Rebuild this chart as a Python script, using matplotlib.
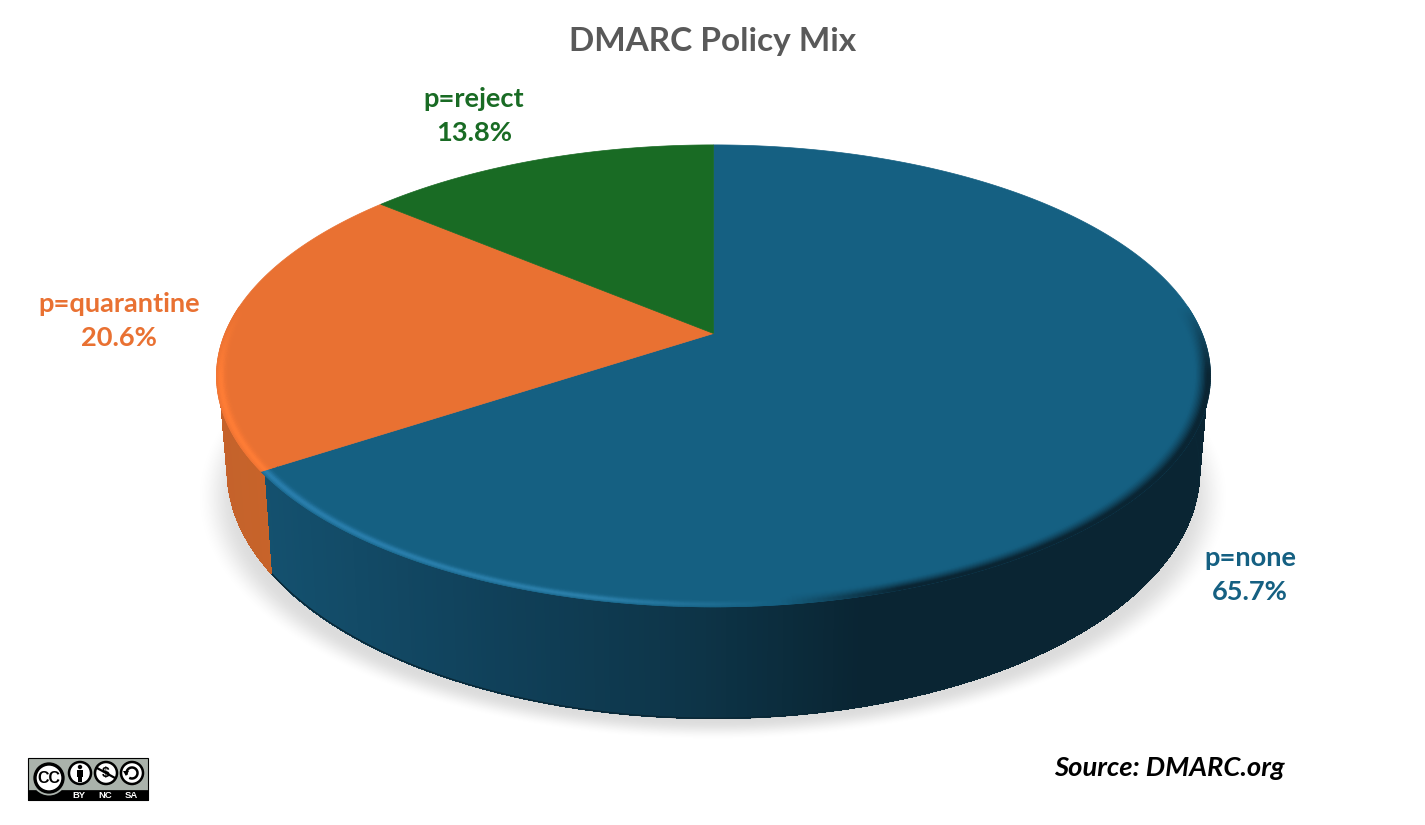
import numpy as np
import matplotlib
matplotlib.use("Agg")
from matplotlib import pyplot as plt
from matplotlib.collections import PolyCollection
from matplotlib.patches import Circle, Rectangle, Arc, Polygon

# data
labels = ["p=none", "p=quarantine", "p=reject"]
values = [65.7, 20.6, 13.8]
colors = ["#156082", "#E97132", "#196B24"]
title = "DMARC Policy Mix"
source = "Source: DMARC.org"
badge_labels = ["BY", "NC", "SA"]

plt.rcParams["font.family"] = ["Lato", "DejaVu Sans"]

W, H = 1425, 825
cx, cy = 713.5, 333.5      # apex of the pie on screen
A, B, p = 223.2, 488.6, 0.1835   # perspective of the disk
depth, s = 91, 0.978   # wall height and x scale of the bottom face

fig = plt.figure(figsize=(W / 100, H / 100), dpi=100)
ax = fig.add_axes([0, 0, 1, 1])


def top_xy(t, r=1.0):
    # t is the fraction of the pie, clockwise from 12 o'clock
    X = r * np.sin(2 * np.pi * t)
    Y = r * np.cos(2 * np.pi * t)
    d = 1 + p * Y
    return cx + B * X / d, cy - A * Y / d


def bottom_xy(t):
    x, y = top_xy(t)
    d = 1 + p * np.cos(2 * np.pi * t)
    return cx + s * (x - cx), y + depth / d


def mix(c1, c2, a):
    c1 = np.array(matplotlib.colors.to_rgb(c1))
    c2 = np.array(matplotlib.colors.to_rgb(c2))
    return c1 * (1 - a) + c2 * a


def ramp(x, pos, cols):
    rgb = [matplotlib.colors.to_rgb(c) for c in cols]
    return [np.interp(x, pos, [c[k] for c in rgb]) for k in range(3)]


def side_color(i, x):
    if i == 0:
        return ramp(x, [260, 500, 700, 860, 1220],
                    ["#14516f", "#104059", "#0d3447", "#0a2533", "#0a2533"])
    return ramp(x, [210, 280], ["#c4622b", "#c8642a"])


def rim_color(i, x):
    if i == 0:
        return ramp(x, [260, 600, 700, 780, 800, 900, 1220],
                    ["#2a7fae", "#2c80ab", "#206f95", "#156082", "#135674", "#0a2533", "#0a2533"])
    return ramp(x, [210, 280], ["#ff7d36", "#ff7d36"])


# soft shadow under the pie
gx, gy = np.meshgrid(np.arange(W) + 0.5, np.arange(H) + 0.5)
e = np.sqrt(((gx - 713) / 516) ** 2 + ((gy - 497) / 243) ** 2)
sh = np.clip((1.0 - e) / 0.08, 0, 1)
sh = sh * sh * (3 - 2 * sh)
img = np.ones((H, W, 4))
img[..., :3] = 0.55
img[..., 3] = 0.3 * sh
ax.imshow(img, extent=(0, W, H, 0), aspect="auto", zorder=1)

fractions = np.array(values) / np.sum(values)
edges = np.concatenate([[0], np.cumsum(fractions)])

# outer wall, cut in strips so the shade can change along it; back part is hidden
for i in range(len(values)):
    ts = np.linspace(edges[i], edges[i + 1], int(fractions[i] * 720) + 2)
    ts = ts[np.cos(2 * np.pi * ts) < 0.25]
    if len(ts) < 2:
        continue
    quads, cols = [], []
    for a, b in zip(ts[:-1], ts[1:]):
        x1, y1 = top_xy(a, 0.995)
        x2, y2 = top_xy(b, 0.995)
        x3, y3 = bottom_xy(b)
        x4, y4 = bottom_xy(a)
        quads.append([(x1, y1), (x2, y2), (x3, y3), (x4, y4)])
        cols.append(side_color(i, (x1 + x2) / 2))
    ax.add_collection(PolyCollection(quads, facecolors=cols, edgecolors=cols,
                                     linewidths=0.6, antialiased=False, zorder=2))
    # clean lower edge of the wall
    bx, by = bottom_xy(ts)
    ax.plot(bx, by, color=mix(side_color(i, 700), "black", 0.25) if i == 0 else side_color(i, 240),
            lw=1.0, zorder=2)

# top faces
for i in range(len(values)):
    ts = np.linspace(edges[i], edges[i + 1], 400)
    x, y = top_xy(ts)
    ax.fill(np.r_[cx, x], np.r_[cy, y], color=colors[i], lw=0.5, zorder=3)

# bevel along the front rim
radii = np.linspace(1.0, 0.968, 13)
for i in range(len(values)):
    ts = np.linspace(edges[i], edges[i + 1], int(fractions[i] * 720) + 2)
    for j in range(len(radii) - 1):
        r1, r2 = radii[j], radii[j + 1]
        u = (j + 0.5) / (len(radii) - 1)
        quads, cols = [], []
        for a, b in zip(ts[:-1], ts[1:]):
            m = (a + b) / 2
            Y = np.cos(2 * np.pi * m)
            k = np.clip((0.12 - Y) / 0.3, 0, 1)
            if k == 0:
                continue
            x1, y1 = top_xy(a, r1)
            x2, y2 = top_xy(b, r1)
            x3, y3 = top_xy(b, r2)
            x4, y4 = top_xy(a, r2)
            xm = (x1 + x2) / 2
            # light rims peak a little inside the edge, dark rims at the edge
            rc = rim_color(i, xm)
            if xm > 790 and i == 0:
                w = np.clip(1.35 * (1 - u), 0, 1) ** 1.4
            else:
                w = np.exp(-((u - 0.28) / 0.26) ** 2)
            cols.append(mix(colors[i], rc, k * w))
            quads.append([(x1, y1), (x2, y2), (x3, y3), (x4, y4)])
        if quads:
            ax.add_collection(PolyCollection(quads, facecolors=cols, edgecolors=cols,
                                             linewidths=0.5, zorder=4))

# texts
ax.text(713, 41, title, ha="center", va="center", fontsize=24, fontweight="bold",
        color="#595959", zorder=6)
label_pos = [(1250, 575), (119, 321), (474, 116)]
for i in range(len(values)):
    ax.text(label_pos[i][0], label_pos[i][1], "%s\n%.1f%%" % (labels[i], values[i]),
            ha="center", va="center", fontsize=19.6, fontweight="bold", color=colors[i],
            linespacing=1.5, zorder=6)
ax.text(1054, 768, source, ha="left", va="center", fontsize=19.7, fontweight="bold",
        style="italic", color="black", zorder=6)

# CC BY-NC-SA badge
ax.add_patch(Rectangle((28, 758), 120, 42, fc="#aab2ab", ec="black", lw=0.8, zorder=5))
ax.add_patch(Rectangle((28, 790), 120, 10, fc="black", ec="black", lw=0.5, zorder=5))
ax.add_patch(Circle((49, 778), 17.5, fc="#aab2ab", ec="none", zorder=5))
ax.add_patch(Circle((49, 778), 14, fc="white", ec="black", lw=2.4, zorder=6))
ax.text(49, 778.5, "CC", ha="center", va="center", fontsize=11.5, fontweight="bold",
        family="Liberation Sans", color="black", zorder=7)
icon_x = [80, 106, 132]
for x in icon_x:
    ax.add_patch(Circle((x, 773), 11, fc="white", ec="black", lw=1.8, zorder=6))
ax.add_patch(Circle((80, 767), 2.2, fc="black", ec="none", zorder=7))
ax.add_patch(Rectangle((76.8, 770), 6.4, 7, fc="black", ec="none", zorder=7))
ax.add_patch(Rectangle((78.3, 776), 3.4, 6, fc="black", ec="none", zorder=7))
ax.text(106, 773, "$", ha="center", va="center", fontsize=10, fontweight="bold",
        family="Liberation Sans", color="black", zorder=7)
ax.plot([97, 115], [768, 778], color="black", lw=1.6, zorder=7)
ax.add_patch(Arc((132, 773), 11, 11, theta1=-200, theta2=120, ec="black", lw=1.8, zorder=7))
ax.add_patch(Polygon([(123, 771), (129, 771), (126, 776)], fc="black", ec="none", zorder=7))
for x, t in zip([79, 105, 131], badge_labels):
    ax.text(x, 795, t, ha="center", va="center", fontsize=6.8, fontweight="bold",
            family="Liberation Sans", color="white", zorder=7)

ax.set_xlim(0, W)
ax.set_ylim(H, 0)
ax.axis("off")
fig.savefig("out.png", dpi=100, facecolor="white")
